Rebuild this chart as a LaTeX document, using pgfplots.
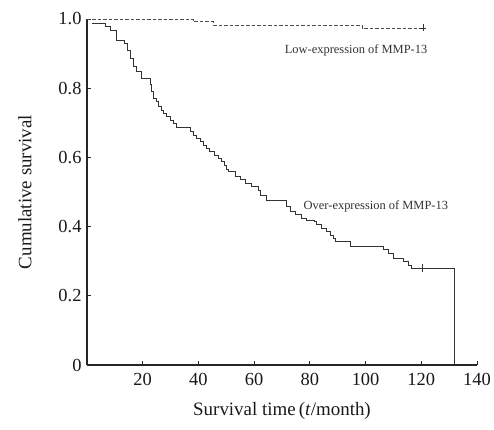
\documentclass[border=0pt]{standalone}
\usepackage{pgfplots}
\pgfplotsset{compat=1.18}
\usepackage{fontspec}
\setmainfont{Liberation Serif}
\usetikzlibrary{calc}

% Kaplan-Meier estimates (t in months)
\pgfplotstableread{
t s
1.8 0.987
6.5 0.978
8.3 0.968
10.4 0.939
13.6 0.930
14.5 0.910
15.4 0.886
16.6 0.862
17.8 0.848
19.6 0.829
22.6 0.810
23.2 0.790
23.8 0.771
25.0 0.761
25.6 0.747
26.8 0.737
27.4 0.727
28.6 0.718
29.8 0.708
31.0 0.699
32.2 0.686
37.0 0.674
38.2 0.665
39.4 0.655
40.6 0.645
41.8 0.636
43.0 0.626
44.1 0.616
45.9 0.607
47.1 0.597
48.3 0.588
49.5 0.578
50.1 0.564
50.7 0.559
53.1 0.544
54.9 0.535
56.7 0.525
59.1 0.515
61.5 0.506
62.1 0.491
64.5 0.477
71.7 0.457
72.9 0.443
74.7 0.434
77.1 0.424
78.9 0.419
81.8 0.414
82.4 0.405
84.2 0.395
86.0 0.385
87.2 0.376
88.4 0.366
89.0 0.356
94.4 0.344
106.4 0.334
108.2 0.323
110.0 0.308
113.5 0.299
115.3 0.289
116.5 0.279
132.0 0.279
132.0 0.000
}\overexpr

\pgfplotstableread{
t s
0.0 1.000
38.2 0.992
45.3 0.983
98.7 0.974
120.6 0.974
}\lowexpr

\begin{document}
\begin{tikzpicture}
\begin{axis}[
    name=ax,
    scale only axis,
    width=390bp, height=346bp,
    xmin=0, xmax=140, ymin=0, ymax=1,
    axis x line*=bottom, axis y line*=left,
    axis line style={line width=1.1pt, black!85},
    xtick={20,40,...,140},
    ytick={0,0.2,0.4,0.6,0.8,1.0},
    yticklabels={0,0.2,0.4,0.6,0.8,1.0},
    tick align=inside,
    major tick length=4bp,
    tick style={line width=0.9pt, black!85},
    ticklabel style={font=\fontsize{18.5}{21}\selectfont, text=black!90},
    /pgf/number format/assume math mode=true,
    xticklabel style={yshift=-5bp},
    yticklabel style={xshift=-2bp},
    xlabel={Survival time\,(\textit{t}/month)},
    ylabel={Cumulative survival},
    label style={font=\fontsize{19}{22}\selectfont, text=black!90},
    xlabel style={yshift=-10bp},
    ylabel style={yshift=20bp},
    clip=false,
]
\addplot[const plot, line width=0.8pt, black!80] table[x=t, y=s] {\overexpr};
\addplot[const plot, line width=0.7pt, black!70, dash pattern=on 3.5bp off 2bp] table[x=t, y=s] {\lowexpr};
\addplot[only marks, mark=|, mark size=4bp, mark options={line width=0.8pt, black!80}] coordinates {(120.5,0.279)};
\addplot[only marks, mark=+, mark size=3.5bp, mark options={line width=0.8pt, black!80}] coordinates {(120.6,0.974)};
\node[font=\fontsize{12.5}{14}\selectfont, text=black!80] at (axis cs:96.6,0.910) {Low-expression of MMP-13};
\node[font=\fontsize{12.5}{14}\selectfont, text=black!80] at (axis cs:103.7,0.457) {Over-expression of MMP-13};
\end{axis}
\pgfresetboundingbox
\path ($(ax.south west)+(-87bp,-65bp)$) rectangle ($(ax.north east)+(17bp,19bp)$);
\end{tikzpicture}
\end{document}
